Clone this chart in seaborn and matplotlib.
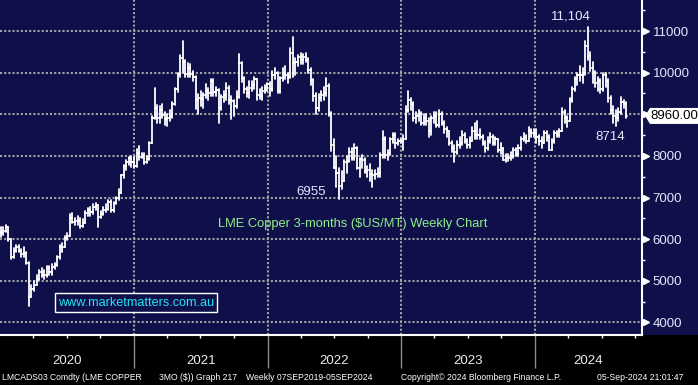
import numpy as np
import pandas as pd
import matplotlib
matplotlib.use('Agg')
import matplotlib.pyplot as plt
import matplotlib.transforms as mtransforms
from matplotlib.patches import Polygon, Rectangle
import seaborn as sns

# weekly LME copper 3M bars (week ending Friday)
first_open = 6170
close_2020 = [6160, 6200, 6290, 6000, 5570, 5720, 5800, 5720, 5640, 5660,
              5420, 4620, 4800, 4900, 5050, 5200, 5150, 5150, 5300, 5200,
              5320, 5380, 5560, 5800, 5820, 6040, 6080, 6520, 6420, 6440,
              6430, 6320, 6400, 6620, 6700, 6650, 6780, 6810, 6540, 6600,
              6690, 6730, 6890, 6700, 6880, 6980, 7110, 7530, 7750, 7850,
              7960, 7850]
high_2020 = [6300, 6290, 6340, 6300, 6000, 5780, 5850, 5850, 5760, 5800,
             5700, 5450, 4900, 5000, 5150, 5250, 5300, 5250, 5350, 5350,
             5400, 5420, 5600, 5850, 5900, 6080, 6150, 6600, 6630, 6500,
             6550, 6500, 6480, 6680, 6760, 6780, 6850, 6870, 6820, 6680,
             6770, 6850, 6950, 6950, 6900, 7010, 7200, 7550, 7780, 7900,
             7980, 8000]
low_2020 = [6050, 6100, 6180, 5950, 5520, 5550, 5700, 5680, 5580, 5560,
            5400, 4390, 4600, 4750, 4900, 5030, 5100, 5050, 5100, 5150,
            5150, 5280, 5360, 5520, 5700, 5800, 5980, 6080, 6400, 6340,
            6350, 6270, 6300, 6380, 6560, 6550, 6600, 6700, 6300, 6500,
            6580, 6650, 6700, 6650, 6650, 6850, 6950, 7100, 7480, 7650,
            7780, 7730]

close_2021 = [7750, 8060, 7980, 8000, 7860, 7930, 8300, 8900, 9150, 8900,
              9100, 8990, 8890, 8900, 8950, 9250, 9600, 9960, 10360, 10250,
              9960, 10120, 9970, 9900, 9350, 9380, 9370, 9460, 9560, 9520,
              9800, 9540, 9580, 9140, 9420, 9460, 9640, 9350, 9330, 9200,
              9420, 10220, 9880, 9600, 9510, 9640, 9700, 9850, 9470, 9450,
              9560, 9620, 9720]
high_2021 = [7980, 8170, 8240, 8070, 8080, 7990, 8330, 8950, 9620, 9230,
             9200, 9250, 9050, 9000, 9100, 9300, 9630, 9990, 10420, 10750,
             10300, 10230, 10200, 10050, 9930, 9480, 9550, 9520, 9720, 9620,
             9850, 9850, 9650, 9600, 9470, 9550, 9750, 9670, 9430, 9350,
             9550, 10450, 10250, 9900, 9650, 9800, 9800, 9900, 9850, 9600,
             9650, 9700, 9750]
low_2021 = [7720, 7740, 7900, 7950, 7800, 7830, 7900, 8300, 8880, 8800,
            8800, 8900, 8750, 8730, 8850, 8900, 9230, 9530, 9900, 10000,
            9900, 9900, 9900, 9800, 9130, 9000, 9200, 9150, 9400, 9350,
            9450, 9450, 9430, 8780, 9100, 9300, 9350, 9250, 8880, 8950,
            9150, 9400, 9780, 9500, 9420, 9380, 9550, 9600, 9350, 9360,
            9350, 9500, 9550]

close_2022 = [9600, 9950, 9980, 9550, 9880, 9990, 9940, 9900, 10470, 10220,
              10250, 10380, 10300, 10380, 10300, 10070, 9820, 9430, 9150, 9380,
              9460, 9520, 9680, 9000, 8260, 7700, 7600, 7270, 7400, 7850,
              7870, 8090, 7960, 8200, 7700, 7930, 7900, 7630, 7660, 7570,
              7550, 7560, 7600, 8030, 8400, 8030, 8060, 8400, 8500, 8300,
              8360, 8370]
high_2022 = [9780, 10050, 10100, 10020, 9900, 10100, 10150, 10000, 10600, 10845,
             10350, 10420, 10480, 10450, 10480, 10350, 10100, 9850, 9520, 9480,
             9550, 9650, 9870, 9720, 9050, 8400, 8000, 7700, 7630, 7900,
             8000, 8180, 8200, 8280, 8220, 7950, 8030, 7950, 7750, 7800,
             7650, 7650, 7700, 8070, 8600, 8450, 8150, 8430, 8550, 8550,
             8400, 8400]
low_2022 = [9450, 9550, 9850, 9500, 9520, 9800, 9850, 9750, 9860, 9900,
            9950, 10150, 10200, 10200, 10250, 10000, 9700, 9330, 9000, 9070,
            9320, 9350, 9430, 8950, 8120, 7800, 7250, 6955, 7200, 7450,
            7600, 7850, 7900, 7900, 7680, 7500, 7700, 7580, 7500, 7400,
            7250, 7450, 7500, 7500, 7950, 7950, 7900, 8020, 8300, 8200,
            8250, 8300]

close_2023 = [8400, 9100, 9350, 9250, 8900, 8950, 9000, 8800, 8900, 8850,
              8600, 8900, 8950, 8750, 9000, 8800, 8650, 8600, 8300, 8200,
              8100, 8250, 8300, 8500, 8350, 8250, 8350, 8600, 8500, 8500,
              8450, 8300, 8200, 8350, 8450, 8300, 8400, 8150, 8200, 7900,
              7950, 7950, 8000, 8150, 8050, 8200, 8400, 8450, 8350, 8600,
              8550, 8550]
high_2023 = [8500, 9200, 9550, 9400, 9300, 9050, 9100, 9050, 9000, 9000,
             8900, 8950, 9050, 9050, 9100, 9050, 8850, 8700, 8600, 8350,
             8250, 8350, 8450, 8600, 8550, 8400, 8450, 8700, 8800, 8850,
             8650, 8500, 8350, 8450, 8550, 8500, 8450, 8400, 8300, 8200,
             8050, 8050, 8100, 8200, 8200, 8250, 8450, 8550, 8500, 8700,
             8650, 8650]
low_2023 = [8150, 8400, 9050, 9100, 8850, 8800, 8850, 8750, 8750, 8750,
            8450, 8500, 8800, 8700, 8700, 8750, 8550, 8450, 8250, 8100,
            7860, 8050, 8200, 8250, 8300, 8200, 8200, 8350, 8400, 8400,
            8400, 8250, 8100, 8150, 8300, 8250, 8250, 8100, 8050, 7900,
            7850, 7880, 7900, 7950, 8000, 8000, 8150, 8350, 8300, 8350,
            8450, 8450]

close_2024 = [8450, 8350, 8300, 8550, 8450, 8150, 8350, 8550, 8500, 8600,
              9050, 8900, 8850, 9350, 9600, 9850, 9950, 9950, 9980, 10650,
              10400, 10100, 10000, 9750, 9800, 9600, 9950, 9800, 9400, 9100,
              8950, 8900, 9050, 9300, 9250, 8960]
high_2024 = [8650, 8500, 8450, 8600, 8600, 8500, 8400, 8600, 8600, 8650,
             9150, 9100, 8950, 9400, 9650, 9900, 10000, 10150, 10120, 10750,
             11104, 10500, 10250, 10050, 9900, 9850, 9990, 9980, 9850, 9450,
             9200, 9100, 9150, 9420, 9350, 9300]
low_2024 = [8300, 8250, 8200, 8300, 8350, 8140, 8150, 8300, 8450, 8450,
            8600, 8800, 8700, 8850, 9300, 9550, 9700, 9800, 9750, 9950,
            10300, 10050, 9750, 9650, 9550, 9500, 9550, 9650, 9300, 9000,
            8800, 8714, 8850, 9000, 9150, 8900]

last_price = 8960.00
year_labels = ['2020', '2021', '2022', '2023', '2024']
y_ticks = [4000, 5000, 6000, 7000, 8000, 9000, 10000, 11000]
callouts = [('11,104', '2024-05-24', 11104, (-12, 7)),
            ('6955', '2022-07-15', 6955, (-20, 5)),
            ('8714', '2024-08-09', 8714, (-4, -8))]

NAVY = '#0f0f4a'
GRID = '#a3a3a3'
LABEL = '#e2e9ff'

close = np.array(close_2020 + close_2021 + close_2022 + close_2023 + close_2024, dtype=float)
high = np.array(high_2020 + high_2021 + high_2022 + high_2023 + high_2024, dtype=float)
low = np.array(low_2020 + low_2021 + low_2022 + low_2023 + low_2024, dtype=float)
opn = np.r_[first_open, close[:-1]]
high = np.maximum(high, np.maximum(opn, close))
low = np.minimum(low, np.minimum(opn, close))
dates = pd.date_range('2020-01-03', periods=len(close), freq='W-FRI')

# one row per segment end: high-low stem, open tick (left), close tick (right)
off = pd.Timedelta(days=3)
rows = []
for i, (d, o, h, l, c) in enumerate(zip(dates, opn, high, low, close)):
    rows += [(d, l, 3 * i), (d, h, 3 * i),
             (d - off, o, 3 * i + 1), (d, o, 3 * i + 1),
             (d, c, 3 * i + 2), (d + off, c, 3 * i + 2)]
bars = pd.DataFrame(rows, columns=['date', 'price', 'seg'])

sns.set_style('dark', rc={'axes.facecolor': NAVY, 'figure.facecolor': NAVY,
                          'axes.axisbelow': True})
plt.rcParams['font.family'] = ['Liberation Sans', 'DejaVu Sans']

fig = plt.figure(figsize=(6.98, 3.85), dpi=100)
# black band under the plot, drawn before the axes
fig.add_artist(Rectangle((0, 0), 1, 50 / 385, transform=fig.transFigure,
                         facecolor='black', edgecolor='none', zorder=-5))
ax = fig.add_axes([0, 50 / 385, 641.5 / 698, 335 / 385])

sns.lineplot(data=bars, x='date', y='price', units='seg', estimator=None,
             sort=False, color='white', lw=1.3, legend=False, ax=ax)

x0, x1 = pd.Timestamp('2020-01-01'), pd.Timestamp('2024-10-18')
ax.set_xlim(x0, x1)
ax.set_ylim(3698, 11745)
ax.set_xlabel('')
ax.set_ylabel('')

# y axis on the right (9000 sits under the last-price box)
ax.yaxis.tick_right()
ax.set_yticks(y_ticks)
ax.set_yticklabels(['' if v == 9000 else str(v) for v in y_ticks])
ax.set_yticks([v + 500 for v in y_ticks], minor=True)
ax.tick_params(axis='y', which='major', length=0, pad=8, labelsize=9.5,
               labelcolor=LABEL, right=True, left=False)
ax.tick_params(axis='y', which='minor', length=2.5, width=1, color='white',
               right=True, left=False, direction='out')
yt = mtransforms.blended_transform_factory(ax.transAxes, ax.transData)
ax.plot([1.0 + 4 / 641.5] * len(y_ticks), y_ticks, ls='none', marker='>', ms=5,
        color='white', transform=yt, clip_on=False)

# x axis: year dividers and quarter ticks
year_starts = [pd.Timestamp(f'{y}-01-01') for y in range(2021, 2025)]
quarters = [d for d in pd.date_range('2020-04-01', x1, freq='QS') if d.month != 1]
ax.set_xticks(year_starts)
ax.set_xticklabels([])
ax.set_xticks(quarters, minor=True)
ax.tick_params(axis='x', which='major', length=24, width=1, color='#8a8a8a',
               direction='out', bottom=True)
ax.tick_params(axis='x', which='minor', length=2.2, width=1, color='white',
               direction='out', bottom=True)

ax.grid(True, which='major', color=GRID, linestyle=(0, (1, 1)), lw=1.5)

for s in ['top', 'left']:
    ax.spines[s].set_visible(False)
for s in ['right', 'bottom']:
    ax.spines[s].set_visible(True)
    ax.spines[s].set_color('white')
    ax.spines[s].set_linewidth(1.5)

xt = mtransforms.blended_transform_factory(ax.transData, ax.transAxes)
bounds = [pd.Timestamp(f'{y}-01-01') for y in year_labels] + [x1]
for lab, a, b in zip(year_labels, bounds[:-1], bounds[1:]):
    ax.text(a + (b - a) / 2, -0.078, lab, transform=xt, ha='center', va='center',
            color='#ececec', fontsize=9.5, clip_on=False)

# last price box
h = 192
x_a = 1.0 + 3.5 / 641.5
x_b = x_a + 5 / 641.5
x_c = 1.1
ax.add_patch(Polygon([(x_a, last_price), (x_b, last_price + h), (x_c, last_price + h),
                      (x_c, last_price - h), (x_b, last_price - h)],
                     closed=True, transform=yt, facecolor='white', edgecolor='none',
                     clip_on=False, zorder=5))
ax.text(1.0 + 8.5 / 641.5, last_price, f'{last_price:.2f}', transform=yt,
        ha='left', va='center', color='black', fontsize=9.5, zorder=6, clip_on=False)

for txt, d, v, (dx, dy) in callouts:
    ax.annotate(txt, xy=(pd.Timestamp(d), v), xytext=(dx, dy),
                textcoords='offset points', ha='center', va='center',
                color=LABEL, fontsize=9.5)

ax.text(218 / 641.5, (335 - 224) / 335, 'LME Copper 3-months ($US/MT) Weekly Chart',
        transform=ax.transAxes, ha='left', va='center', color='#8ef08a', fontsize=9.3)
ax.text(136 / 641.5, (335 - 302.5) / 335, 'www.marketmatters.com.au',
        transform=ax.transAxes, ha='center', va='center', color='#22e4f4', fontsize=9.1,
        bbox=dict(boxstyle='square,pad=0.25', facecolor=NAVY, edgecolor='white', lw=1))

# footer
foot_y = 1 - 377.5 / 385
footer = [(2, 'LMCADS03 Comdty (LME COPPER'), (159, '3MO ($)) Graph 217'),
          (246, 'Weekly 07SEP2019-05SEP2024'),
          (401, 'Copyright\u00a9 2024 Bloomberg Finance L.P.'),
          (597, '05-Sep-2024 21:01:47')]
for px, txt in footer:
    fig.text(px / 698, foot_y, txt, ha='left', va='center', color='white', fontsize=6.2)

fig.savefig('out.png', dpi=100, facecolor=fig.get_facecolor())
